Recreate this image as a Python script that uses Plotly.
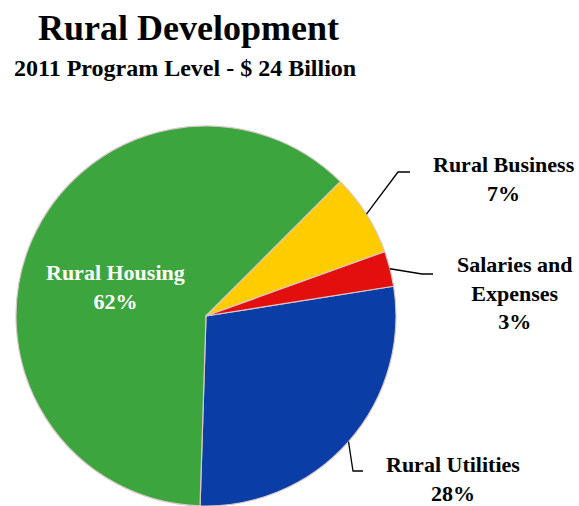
import math
import plotly.graph_objects as go

# program level shares, 2011
categories = ['Rural Utilities', 'Rural Housing', 'Rural Business', 'Salaries and Expenses']
shares = [28, 62, 7, 3]
label_text = ['Rural Utilities<br>28%', 'Rural Housing<br>62%',
              'Rural Business<br>7%', 'Salaries and<br>Expenses<br>3%']
colors = ['#0B3DA6', '#3DA53D', '#FFCC00', '#E30F0F']

W, H = 579, 506
cx, cy, R = 206, 316, 190
rotation = 81


def px(x):
    return x / W


def py(y):
    return 1 - y / H


fig = go.Figure(go.Pie(
    labels=categories,
    values=shares,
    sort=False,
    direction='clockwise',
    rotation=rotation,
    marker=dict(colors=colors, line=dict(color='#d8c8c8', width=1.2)),
    textinfo='none',
    hoverinfo='label+percent',
    domain=dict(x=[px(cx - R), px(cx + R)], y=[py(cy + R), py(cy - R)]),
    showlegend=False,
))

# mid angle of each slice (clockwise from 12 o'clock)
total = sum(shares)
mids = []
start = rotation
for v in shares:
    sweep = 360 * v / total
    mids.append(start + sweep / 2)
    start += sweep


def edge(i):
    a = math.radians(mids[i])
    return cx + R * math.sin(a), cy - R * math.cos(a)


# leader line elbows and label positions (pixels)
elbows = {0: (353, 471, 363), 2: (398, 172, 410), 3: (422, 274, 433)}
label_pos = {0: (453, 479), 1: (115, 287), 2: (504, 179), 3: (515, 293)}

shapes = []
for i, (ex, ey, hx) in elbows.items():
    sx, sy = edge(i)
    shapes.append(dict(type='path', xref='paper', yref='paper',
                       path=f'M {px(sx)},{py(sy)} L {px(ex)},{py(ey)} L {px(hx)},{py(ey)}',
                       line=dict(color='black', width=1.3)))

font = 'Liberation Serif, Times New Roman, serif'
annotations = []
for i, (lx, ly) in label_pos.items():
    annotations.append(dict(x=px(lx), y=py(ly), xref='paper', yref='paper',
                            text=f'<b>{label_text[i]}</b>', showarrow=False,
                            align='center', xanchor='center', yanchor='middle',
                            font=dict(family=font, size=22,
                                      color='white' if i == 1 else 'black')))

annotations.append(dict(x=px(188), y=py(28), xref='paper', yref='paper',
                        text='<b>Rural Development</b>', showarrow=False,
                        xanchor='center', yanchor='middle',
                        font=dict(family=font, size=36, color='black')))
annotations.append(dict(x=px(185), y=py(68), xref='paper', yref='paper',
                        text='<b>2011 Program Level - $ 24 Billion</b>', showarrow=False,
                        xanchor='center', yanchor='middle',
                        font=dict(family=font, size=24, color='black')))

fig.update_layout(
    width=W, height=H,
    margin=dict(l=0, r=0, t=0, b=0),
    paper_bgcolor='white',
    shapes=shapes,
    annotations=annotations,
)

# drop the page's default body margin so the figure fills the window
fig.write_html('out.html', config={'displayModeBar': False},
               post_script="document.body.style.margin='0';")
